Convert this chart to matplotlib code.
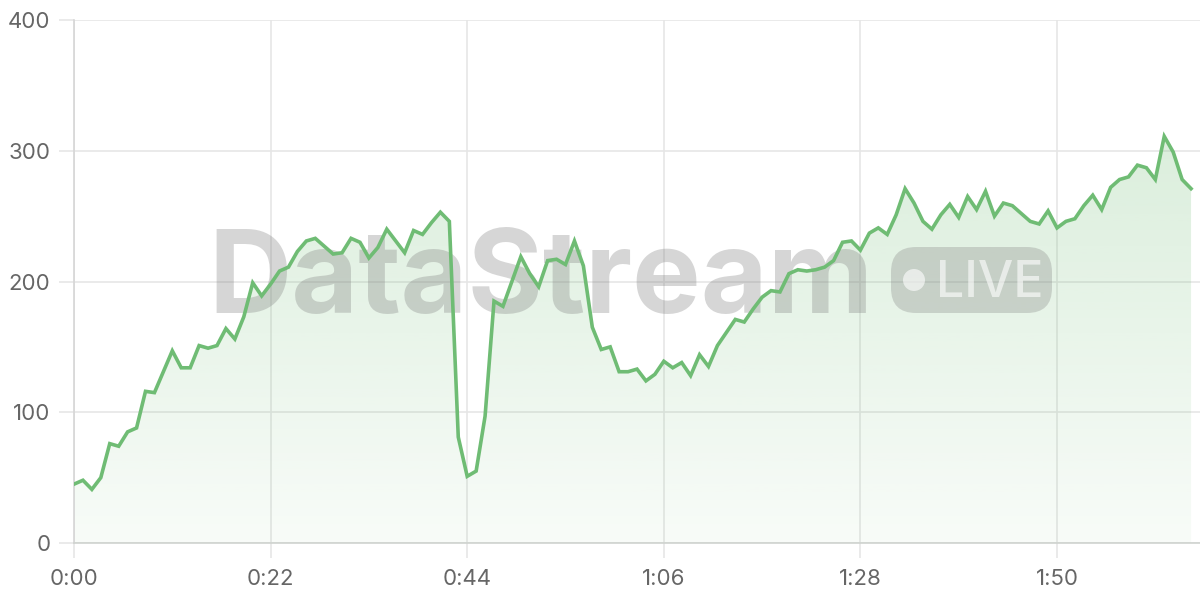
import numpy as np
import matplotlib.pyplot as plt
from matplotlib.patches import FancyBboxPatch, Circle

# valores por segundo (0:00 .. 2:05)
valores = [45, 48, 41, 50, 76, 74, 85, 88, 116, 115,
           131, 147, 134, 134, 151, 149, 151, 164, 156, 173,
           199, 189, 198, 208, 211, 223, 231, 233, 227, 221,
           222, 233, 230, 218, 226, 240, 231, 222, 239, 236,
           245, 253, 246, 81, 51, 55, 97, 185, 181, 200,
           219, 206, 196, 216, 217, 213, 231, 212, 165, 148,
           150, 131, 131, 133, 124, 129, 139, 134, 138, 128,
           144, 135, 151, 161, 171, 169, 179, 188, 193, 192,
           206, 209, 208, 209, 211, 216, 230, 231, 224, 237,
           241, 236, 251, 271, 260, 246, 240, 251, 259, 249,
           265, 255, 269, 250, 260, 258, 252, 246, 244, 254,
           241, 246, 248, 258, 266, 255, 272, 278, 280, 289,
           287, 278, 311, 299, 278, 271]
segundos = list(range(len(valores)))
ticksX = [0, 22, 44, 66, 88, 110]
etiquetasX = ["0:00", "0:22", "0:44", "1:06", "1:28", "1:50"]
ticksY = [0, 100, 200, 300, 400]

verde = '#6fbc74'
plt.rcParams['font.family'] = ['Inter', 'DejaVu Sans']

fig = plt.figure(figsize=(12, 6), dpi=100)
ax = fig.add_axes([74/1200, 57/600, 1126/1200, 523/600])
ax.set_xlim(0, 126)
ax.set_ylim(0, 400)

# relleno con degradado
relleno = ax.fill_between(segundos, valores, 0, color='none', lw=0)
grad = np.linspace(0.05, 0.25, 256).reshape(-1, 1)
colores = np.zeros((256, 1, 4))
colores[..., 0] = 0x6f/255
colores[..., 1] = 0xbc/255
colores[..., 2] = 0x74/255
colores[..., 3] = grad
img = ax.imshow(colores, extent=[0, 125, 0, max(valores)], origin='lower',
                aspect='auto', zorder=1)
img.set_clip_path(relleno.get_paths()[0], transform=ax.transData)

ax.plot(segundos, valores, color=verde, lw=2.6, zorder=4, solid_joinstyle='miter')

ax.set_xticks(ticksX)
ax.set_xticklabels(etiquetasX)
ax.set_yticks(ticksY)
ax.grid(True, color='#e6e6e6', lw=1.2, zorder=0)
ax.set_axisbelow(True)
ax.tick_params(axis='both', colors='#e6e6e6', labelcolor='#666666', labelsize=16,
               length=11, width=1.2)
ax.tick_params(axis='x', pad=8)
ax.tick_params(axis='y', pad=6)
for s in ['top', 'right']:
    ax.spines[s].set_visible(False)
ax.spines['left'].set_color('#d6d6d6')
ax.spines['bottom'].set_color('#cfd3cf')
ax.spines['left'].set_linewidth(1.2)
ax.spines['bottom'].set_linewidth(1.2)

# marca de agua (debajo de la linea)
ax.text(541/1200, (600-313)/600, "DataStream", fontsize=83, fontweight='bold',
        color='#808080', alpha=0.32, ha='center', va='baseline', zorder=2,
        transform=fig.transFigure, clip_on=False)
insignia = FancyBboxPatch((8.91, 2.87), 1.61, 0.66, boxstyle="round,pad=0,rounding_size=0.25",
                          transform=fig.dpi_scale_trans, facecolor='#808080', alpha=0.3,
                          edgecolor='none', zorder=2, clip_on=False)
ax.add_patch(insignia)
ax.add_patch(Circle((9.14, 3.20), 0.11, transform=fig.dpi_scale_trans,
                    facecolor='white', alpha=0.6, edgecolor='none', zorder=3, clip_on=False))
ax.text(936/1200, (600-297)/600, "LIVE", fontsize=36, fontweight='medium', color='white',
        alpha=0.6, ha='left', va='baseline', zorder=3, transform=fig.transFigure, clip_on=False)

fig.savefig('out.png', dpi=100)
